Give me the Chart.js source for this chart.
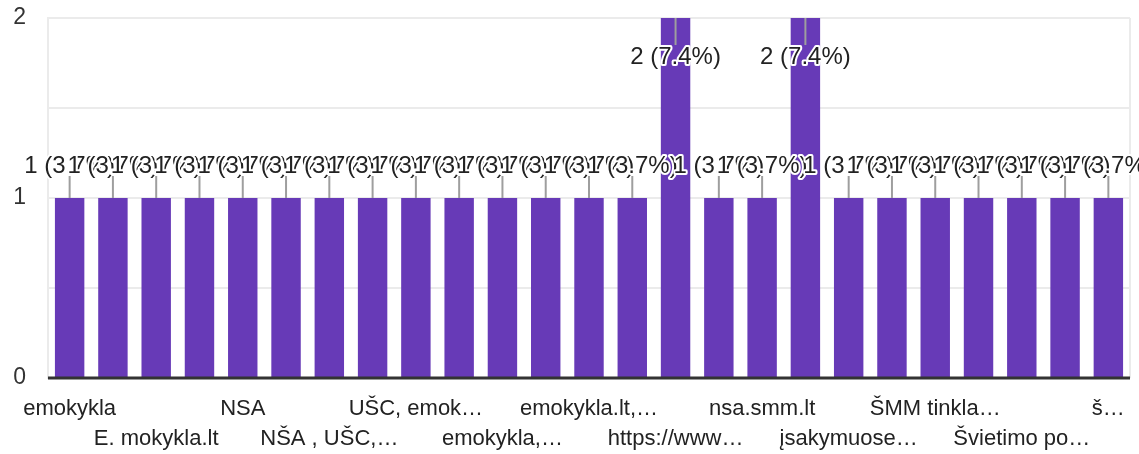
<!DOCTYPE html>
<html>
<head>
<meta charset="utf-8">
<script src="https://cdn.jsdelivr.net/npm/chart.js@4/dist/chart.umd.min.js"></script>
<style>
  html, body { margin: 0; padding: 0; background: #fff; }
  #wrap { width: 1139px; height: 454px; }
</style>
</head>
<body>
<div id="wrap"><canvas id="answers"></canvas></div>
<script>
// answers (every second label is hidden on the axis, like the original)
const categories = [
    'emokykla', 'e-mokykla', 'E. mokykla.lt', 'emokykla.lt', 'NSA',
    'NŠA', 'NŠA , UŠC,…', 'UŠC', 'UŠC, emok…', 'emokykla, NŠA',
    'emokykla,…', 'emokykla.lt, NŠA', 'emokykla.lt,…', 'smm.lt', 'https://www…',
    'nsa.lt', 'nsa.smm.lt', 'ŠMM', 'įsakymuose…', 'ŠMM svetainė',
    'ŠMM tinkla…', 'Švietimo portalas', 'Švietimo po…', 'švietimo naujienos', 'š…'
];
const counts = [1, 1, 1, 1, 1, 1, 1, 1, 1, 1, 1, 1, 1, 1, 2, 1, 1, 2, 1, 1, 1, 1, 1, 1, 1];
const yTicks = [0, 1, 2];

const total = counts.reduce((a, b) => a + b, 0);
const FONT = 'Arial, "Liberation Sans", sans-serif';

// value labels with leader lines, drawn with a white halo
const valueLabels = {
    id: 'valueLabels',
    afterDatasetsDraw(chart) {
        const ctx = chart.ctx;
        const meta = chart.getDatasetMeta(0);
        const top = chart.chartArea.top;
        ctx.save();
        ctx.font = '24px ' + FONT;
        ctx.textAlign = 'center';
        ctx.textBaseline = 'middle';
        meta.data.forEach((bar, i) => {
            const v = counts[i];
            const txt = v + ' (' + (v / total * 100).toFixed(1) + '%)';
            let y1, y2, ty;
            if (bar.y - top < 40) {
                y1 = bar.y; y2 = bar.y + 27; ty = bar.y + 39;
            } else {
                y1 = bar.y; y2 = bar.y - 22; ty = bar.y - 32;
            }
            ctx.strokeStyle = '#9e9e9e';
            ctx.lineWidth = 2;
            ctx.beginPath();
            ctx.moveTo(bar.x, y1);
            ctx.lineTo(bar.x, y2);
            ctx.stroke();
            ctx.lineJoin = 'round';
            ctx.strokeStyle = '#fff';
            ctx.lineWidth = 4;
            ctx.strokeText(txt, bar.x, ty);
            ctx.fillStyle = '#222';
            ctx.fillText(txt, bar.x, ty);
        });
        ctx.restore();
    }
};

// light frame round the plot and the dark zero line
const frame = {
    id: 'frame',
    beforeDatasetsDraw(chart) {
        const { ctx, chartArea: a } = chart;
        ctx.save();
        ctx.strokeStyle = '#ebebeb';
        ctx.lineWidth = 2;
        ctx.beginPath();
        ctx.moveTo(a.right, a.top);
        ctx.lineTo(a.right, a.bottom);
        ctx.stroke();
        ctx.restore();
    },
    afterDatasetsDraw(chart) {
        const { ctx, chartArea: a } = chart;
        const y0 = chart.scales.y.getPixelForValue(0);
        ctx.save();
        ctx.strokeStyle = '#333';
        ctx.lineWidth = 3;
        ctx.beginPath();
        ctx.moveTo(a.left, y0);
        ctx.lineTo(a.right, y0);
        ctx.stroke();
        ctx.restore();
    }
};

new Chart(document.getElementById('answers'), {
    type: 'bar',
    data: {
        labels: categories,
        datasets: [{
            data: counts,
            backgroundColor: '#673ab7',
            barPercentage: 0.68,
            categoryPercentage: 1
        }]
    },
    options: {
        responsive: true,
        maintainAspectRatio: false,
        animation: false,
        layout: { padding: { top: 18, right: 9, left: 0, bottom: 0 } },
        plugins: { legend: { display: false }, tooltip: { enabled: false } },
        scales: {
            x: {
                grid: { display: false },
                border: { display: false },
                afterFit: (s) => { s.height = 76; },
                ticks: {
                    autoSkip: false,
                    maxRotation: 0,
                    minRotation: 0,
                    padding: 8,
                    color: '#222',
                    font: { family: FONT, size: 22, lineHeight: 1.36 },
                    callback: function (val, i) {
                        if (i % 2) return null;
                        const lab = categories[i];
                        return (i / 2) % 2 ? ['', lab] : lab;
                    }
                }
            },
            y: {
                min: 0,
                max: 2,
                afterFit: (s) => { s.width = 48; s.paddingTop = 0; },
                grid: { color: '#ebebeb', lineWidth: 2, drawTicks: false },
                border: { color: '#ebebeb', width: 2 },
                ticks: {
                    stepSize: 0.5,
                    padding: 22,
                    color: '#333',
                    font: { family: FONT, size: 23 },
                    callback: (v) => yTicks.includes(v) ? v : ''
                }
            }
        }
    },
    plugins: [frame, valueLabels]
});
</script>
</body>
</html>
